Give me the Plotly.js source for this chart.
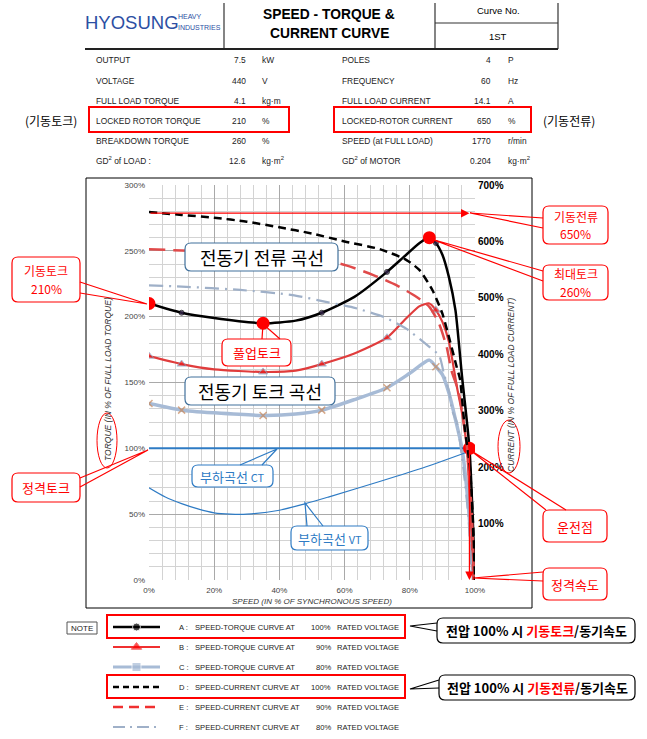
<!DOCTYPE html>
<html><head><meta charset="utf-8">
<script src="https://cdn.plot.ly/plotly-3.0.1.min.js"></script>
<style>html,body{margin:0;padding:0;background:#fff}#chart{width:647px;height:739px}</style>
</head><body><div id="chart"></div>
<script>
// ---------------- DATA ----------------
// A: speed-torque at 100% voltage (x: % sync speed, y: % full-load torque)
const speedA  = [0,10,20,35,45,53,63,73,78,83,86,88,90,92,94,96,98.3,100];
const torqueA = [210,203,199,195,197,203,215,234,245,256,260,256,247,230,205,155,100,0];
const markA   = [0,10,35,53,73,88];
// B: speed-torque at 90% voltage
const speedB  = [0,10,20,35,45,53,63,73,79,83,86,88,90,92,94.5,96,97.5,99.5];
const torqueB = [170,164,160,158,159,164,172,184,199,208,210,205,196,181,146,127,100,0];
const markB   = [0,10,35,53,73,88];
// C: speed-torque at 80% voltage
const speedC  = [0,10,20,35,45,53,63,73,80,86,88,90,92,94,96,98,99.5];
const torqueC = [134,129,127,125,126,129,137,146,157,167,162,156,142,122,100,55,0];
const markC   = [0,10,35,53,73,88];
// D: speed-current at 100% voltage (% full-load current)
const speedD   = [0,10,20,30,40,50,60,71,79,83,87,90,92.3,94.4,95.4,96.9,98.3,99,99.5,100];
const currentD = [652,647,642,635,625,614,600,586,567,549,513,472,424,377,356,267,208,148,89,5];
// E: speed-current at 90% voltage
const speedE   = [0,10,20,40,59,69,76,82,86,89,91.3,92.8,94.9,96,97.5,99,99.7];
const currentE = [586,584,581,574,560,540,522,502,484,454,413,371,335,300,237,119,5];
// F: speed-current at 80% voltage
const speedF   = [0,10,28,44,55,62,72,79,86,89,90.5,92,93,94.4,96.4,98,99];
const currentF = [522,520,514,505,492,484,466,445,413,398,365,335,300,280,200,110,5];
// load curves
const speedCT = [0,98.3];
const loadCT  = [100,100];
const speedVT = [0,5,10,15,20,25,30,40,48,55,71,85,97.5];
const loadVT  = [70,63,58,54,51,50,50,53,58,63,75,86,97];
// highlighted points: locked-rotor, pull-up, breakdown, operating point
const dotSpeed  = [0,35,86,98.3];
const dotTorque = [210,195,260,100];
const lockedCurrent = 650;
const ratedSpeed = 98.3;
const ratedTorque = 100;

// axis ticks
const xTicks = [0,20,40,60,80,100];
const yTicks = [0,50,100,150,200,250,300];
const y2Ticks = [100,200,300,400,500,600,700];

// spec table
const specLeftLabel = ["OUTPUT","VOLTAGE","FULL LOAD TORQUE","LOCKED ROTOR TORQUE","BREAKDOWN TORQUE","GD<sup>2</sup> of LOAD :"];
const specLeftValue = ["7.5","440","4.1","210","260","12.6"];
const specLeftUnit  = ["kW","V","kg·m","%","%","kg·m<sup>2</sup>"];
const specRightLabel = ["POLES","FREQUENCY","FULL LOAD CURRENT","LOCKED-ROTOR CURRENT","SPEED (at FULL LOAD)","GD<sup>2</sup> of MOTOR"];
const specRightValue = ["4","60","14.1","650","1770","0.204"];
const specRightUnit  = ["P","Hz","A","%","r/min","kg·m<sup>2</sup>"];

// legend
const legendLetter = ["A :","B :","C :","D :","E :","F :"];
const legendCurve  = ["SPEED-TORQUE CURVE AT","SPEED-TORQUE CURVE AT","SPEED-TORQUE CURVE AT","SPEED-CURRENT CURVE AT","SPEED-CURRENT CURVE AT","SPEED-CURRENT CURVE AT"];
const legendVolt   = ["100%","90%","80%","100%","90%","80%"];

// ---------------- STYLES ----------------
const W=647,H=739;
const fx=p=>p/W, fy=p=>1-p/H;
const NARROW='"Liberation Sans Narrow","Arial Narrow","Liberation Sans",Arial,sans-serif';
const SANS='"Liberation Sans",Arial,sans-serif';
const KR='"Noto Sans CJK KR","Noto Sans",sans-serif';
const RED='#ff0000';
const BLUE='#2e7bc4';
const pct=v=>v+'%';

const styleA={line:{color:'#000',width:2.5,shape:'spline',smoothing:0.6},marker:{symbol:'circle',color:'#3d2b56'}};
const styleB={line:{color:'#e03c3c',width:2.2,shape:'spline',smoothing:0.6},marker:{symbol:'triangle-up',color:'#e81c1c',line:{color:'#7fa7c9',width:1}}};
const styleC={line:{color:'#a7bbd6',width:3.5,shape:'spline',smoothing:0.6},marker:{symbol:'x-thin-open',color:'#c8885a',line:{color:'#c8885a',width:1.5}}};
const styleD={line:{color:'#000',width:2.5,dash:'8px,5px',shape:'spline',smoothing:0.6}};
const styleE={line:{color:'#e04a4a',width:2.5,dash:'16px,8px',shape:'spline',smoothing:0.6}};
const styleF={line:{color:'#9fb0c8',width:2.2,dash:'14px,6px,2px,6px',shape:'spline',smoothing:0.6}};

function sizes(xs,marks,s){return xs.map(v=>marks.includes(v)?s:0);}

const traces=[
 {x:speedF,y:currentF,yaxis:'y2',mode:'lines',line:styleF.line,hoverinfo:'skip'},
 {x:speedE,y:currentE,yaxis:'y2',mode:'lines',line:styleE.line,hoverinfo:'skip'},
 {x:speedD,y:currentD,yaxis:'y2',mode:'lines',line:styleD.line,hoverinfo:'skip'},
 {x:speedC,y:torqueC,mode:'lines+markers',line:styleC.line,marker:Object.assign({},styleC.marker,{size:sizes(speedC,markC,7)})},
 {x:speedB,y:torqueB,mode:'lines+markers',line:styleB.line,marker:Object.assign({},styleB.marker,{size:sizes(speedB,markB,8)})},
 {x:speedA,y:torqueA,mode:'lines+markers',line:styleA.line,marker:Object.assign({},styleA.marker,{size:sizes(speedA,markA,5)})},
 {x:speedVT,y:loadVT,mode:'lines',line:{color:BLUE,width:1.2,shape:'spline',smoothing:0.8}},
 {x:speedCT,y:loadCT,mode:'lines',line:{color:BLUE,width:2}},
 {x:dotSpeed,y:dotTorque,mode:'markers',marker:{color:RED,size:13}}
];

// legend samples on auxiliary axes
const legendStyles=[
 {line:{color:'#000',width:2.5},marker:{symbol:'circle',color:'#000',size:8}},
 {line:{color:'#f03030',width:2.2},marker:{symbol:'triangle-up',color:'#f00',size:9}},
 {line:{color:'#a7bbd6',width:3},marker:{symbol:'square',color:'#a7bbd6',size:9}},
 {line:{color:'#000',width:2.5,dash:'6px,4px'}},
 {line:{color:'#f03030',width:2.5,dash:'10px,6px'}},
 {line:{color:'#9fb0c8',width:2.2,dash:'12px,5px,2px,5px'}}
];
legendLetter.forEach((l,i)=>{
  const st=legendStyles[i];
  const tr={x:[0,0.5,1],y:[i+0.5,i+0.5,i+0.5],xaxis:'x2',yaxis:'y3',mode:'lines',line:st.line,hoverinfo:'skip'};
  if(st.marker){tr.mode='lines+markers';tr.marker=Object.assign({},st.marker,{size:[0,st.marker.size,0]});}
  traces.push(tr);
});

// ---------------- SHAPES ----------------
const shapes=[];
function line(x0,y0,x1,y1,color,width){shapes.push({type:'line',xref:'paper',yref:'paper',x0:fx(x0),y0:fy(y0),x1:fx(x1),y1:fy(y1),line:{color:color,width:width}});}
function rect(x0,y0,x1,y1,color,width,fill){shapes.push({type:'rect',xref:'paper',yref:'paper',x0:fx(x0),y0:fy(y0),x1:fx(x1),y1:fy(y1),line:{color:color,width:width},fillcolor:fill||'rgba(0,0,0,0)'});}
function rrect(x0,y0,x1,y1,r,color,width){
  const X=fx,Y=fy;
  const p=`M ${X(x0+r)} ${Y(y0)} L ${X(x1-r)} ${Y(y0)} Q ${X(x1)} ${Y(y0)} ${X(x1)} ${Y(y0+r)} L ${X(x1)} ${Y(y1-r)} Q ${X(x1)} ${Y(y1)} ${X(x1-r)} ${Y(y1)} L ${X(x0+r)} ${Y(y1)} Q ${X(x0)} ${Y(y1)} ${X(x0)} ${Y(y1-r)} L ${X(x0)} ${Y(y0+r)} Q ${X(x0)} ${Y(y0)} ${X(x0+r)} ${Y(y0)} Z`;
  shapes.push({type:'path',xref:'paper',yref:'paper',path:p,line:{color:color,width:width},fillcolor:'#fff'});
}
function wedge(a,t,b,color,width){
  const p=`M ${fx(a[0])} ${fy(a[1])} L ${fx(t[0])} ${fy(t[1])} L ${fx(b[0])} ${fy(b[1])}`;
  shapes.push({type:'path',xref:'paper',yref:'paper',path:p,line:{color:color,width:width},fillcolor:'rgba(0,0,0,0)'});
}
function ellipse(x0,y0,x1,y1,color){shapes.push({type:'circle',xref:'paper',yref:'paper',x0:fx(x0),y0:fy(y0),x1:fx(x1),y1:fy(y1),line:{color:color,width:1}});}

// header table
line(224,3,224,49,'#333',1.2);
line(435,3,435,49,'#333',1.2);
line(558,3,558,49,'#333',1.2);
line(435,23,558,23,'#333',1.2);
line(85,49,558,49,'#222',2);
// spec highlight boxes
rect(89,107,289,132,RED,2);
rect(334,107,531,132,RED,2);
// chart frame
rect(86,178,532,608,'#000',1);
// legend
rect(67,622,97,634,'#555',1,'#fff');
rect(107,615,405,638,RED,2);
rect(107,675,405,698,RED,2);
// ellipses around axis titles
ellipse(97,413,117,468,RED);
ellipse(498,420,520,473,RED);

// callouts (text lines drawn separately)
const callouts=[
 {box:[12,257,80,302],w:[[80,282],[147,304],[80,293]],text:['기동토크','210%'],c:RED,tc:RED,fs:13},
 {box:[12,473,80,502],w:[[80,478],[148,450],[80,487]],text:['정격토크'],c:RED,tc:RED,fs:13},
 {box:[222,339,291,366],w:[[262,339],[263,324],[280,339]],text:['풀업토크'],c:RED,tc:RED,fs:13},
 {box:[543,206,608,244],w:[[543,218],[470,213],[543,228]],text:['기동전류','650%'],c:RED,tc:RED,fs:13},
 {box:[543,265,608,300],w:[[543,271],[431,239],[543,281]],text:['최대토크','260%'],c:RED,tc:RED,fs:13},
 {box:[543,510,607,542],w:[[546,510],[470,450],[566,510]],text:['운전점'],c:RED,tc:RED,fs:13},
 {box:[543,568,607,600],w:[[543,572],[473,578],[543,581]],text:['정격속도'],c:RED,tc:RED,fs:13},
 {box:[185,243,338,271],w:null,text:['전동기 전류 곡선'],c:'#41719c',tc:'#000',fs:18},
 {box:[185,377,335,405],w:null,text:['전동기 토크 곡선'],c:'#41719c',tc:'#000',fs:18},
 {box:[192,465,273,487],w:[[240,465],[277,449],[262,465]],text:['부하곡선 <span style="font-size:11px">CT</span>'],c:BLUE,tc:BLUE,fs:13},
 {box:[291,526,368,550],w:[[307,526],[305,503],[323,526]],text:['부하곡선 <span style="font-size:11px">VT</span>'],c:BLUE,tc:BLUE,fs:13},
 {box:[437,618,635,643],w:[[437,623],[410,626],[437,631]],text:['<b>전압 100% 시 <span style="color:#ff0000">기동토크</span>/동기속도</b>'],c:'#000',tc:'#000',fs:13},
 {box:[439,675,635,700],w:[[439,680],[410,689],[439,688]],text:['<b>전압 100% 시 <span style="color:#ff0000">기동전류</span>/동기속도</b>'],c:'#000',tc:'#000',fs:13}
];
callouts.forEach(o=>{
  const b=o.box;
  rrect(b[0],b[1],b[2],b[3],6,o.c,1.2);
  if(o.w) wedge(o.w[0],o.w[1],o.w[2],o.c,1.2);
});

// ---------------- ANNOTATIONS ----------------
const ann=[];
function txt(x,y,text,size,color,family,anchor,extra){
  ann.push(Object.assign({xref:'paper',yref:'paper',x:fx(x),y:fy(y),text:text,showarrow:false,
    xanchor:anchor||'left',yanchor:'middle',borderpad:0,font:{size:size,color:color,family:family}},extra||{}));
}
// header
txt(84,23,'HYOSUNG',18.5,'#2c4fa3',NARROW,'left');
txt(177,17,'HEAVY',7,'#2c4fa3',NARROW,'left');
txt(177,28,'INDUSTRIES',7,'#2c4fa3',NARROW,'left');
txt(329,14,'<b>SPEED - TORQUE &amp;</b>',13.8,'#000',NARROW,'center');
txt(329,34,'<b>CURRENT CURVE</b>',13.8,'#000',NARROW,'center');
txt(498,10,'Curve No.',9.5,'#000',NARROW,'center');
txt(498,36,'1ST',9.5,'#000',NARROW,'center');
// spec rows
const rowY=[60,81,101,121,141,161];
rowY.forEach((y,i)=>{
  txt(95,y,specLeftLabel[i],8.4,'#222',NARROW,'left');
  txt(247,y,specLeftValue[i],8.4,'#222',NARROW,'right');
  txt(261,y,specLeftUnit[i],8.4,'#222',NARROW,'left');
  txt(341,y,specRightLabel[i],8.4,'#222',NARROW,'left');
  txt(492,y,specRightValue[i],8.4,'#222',NARROW,'right');
  txt(507,y,specRightUnit[i],8.4,'#222',NARROW,'left');
});
txt(51,121,'(기동토크)',12,'#000',KR,'center');
txt(569,121,'(기동전류)',12,'#000',KR,'center');
// axis titles
txt(312,601,'SPEED (IN % OF SYNCHRONOUS SPEED)',8,'#333',SANS,'center',{font:{size:8,color:'#333',family:SANS,style:'italic'}});
txt(108,379,'TORQUE (IN % OF FULL LOAD TORQUE)',8.5,'#333',SANS,'center',{textangle:-90,font:{size:8.5,color:'#333',family:SANS,style:'italic'}});
txt(511,385,'CURRENT (IN % OF FULL LOAD CURRENT)',8.5,'#333',SANS,'center',{textangle:-90,font:{size:8.5,color:'#333',family:SANS,style:'italic'}});
// callout texts
callouts.forEach(o=>{
  const b=o.box, cx=(b[0]+b[2])/2, cy=(b[1]+b[3])/2, n=o.text.length, gap=18;
  o.text.forEach((t,k)=>{
    const fs = n>1 ? 12 : o.fs;
    txt(cx, cy+(k-(n-1)/2)*gap, t, fs, o.tc, KR, 'center');
  });
});
// legend texts
txt(82,628,'NOTE',8,'#222',NARROW,'center');
const legY=[627,647,667,687,707,727];
legY.forEach((y,i)=>{
  txt(178,y,legendLetter[i],7.6,'#222',NARROW,'left');
  txt(194,y,legendCurve[i],7.6,'#222',NARROW,'left');
  txt(332,y,legendVolt[i],7.6,'#222',NARROW,'right');
  txt(336,y,'RATED VOLTAGE',7.6,'#222',NARROW,'left');
});
// red arrows tied to data
ann.push({xref:'x',yref:'y2',x:ratedSpeed,y:lockedCurrent,axref:'x',ayref:'y2',ax:0,ay:lockedCurrent,
  text:'',showarrow:true,arrowhead:2,arrowsize:1.3,arrowwidth:1.3,arrowcolor:RED});
ann.push({xref:'x',yref:'y',x:ratedSpeed,y:0,axref:'x',ayref:'y',ax:ratedSpeed,ay:ratedTorque,
  text:'',showarrow:true,arrowhead:2,arrowsize:1.3,arrowwidth:1.3,arrowcolor:RED});

// ---------------- LAYOUT ----------------
const layout={
  width:W,height:H,margin:{l:0,r:0,t:0,b:0},paper_bgcolor:'#fff',plot_bgcolor:'#fff',showlegend:false,
  xaxis:{domain:[fx(149),fx(475)],range:[0,100],tickmode:'array',tickvals:xTicks,ticktext:xTicks.map(pct),ticklabelstandoff:4,
    tickfont:{size:8,color:'#444',family:SANS},
    showgrid:true,gridcolor:'#a9a9a9',gridwidth:1,minor:{dtick:4,tick0:0,showgrid:true,gridcolor:'#d3d3d3',gridwidth:1},
    zeroline:false,showline:false,ticks:'',fixedrange:true,anchor:'y'},
  yaxis:{domain:[fy(580),fy(185)],range:[0,300],tickmode:'array',tickvals:yTicks,ticktext:yTicks.map(pct),ticklabelstandoff:3,
    tickfont:{size:8,color:'#444',family:SANS},
    showgrid:true,gridcolor:'#a9a9a9',gridwidth:1,minor:{dtick:10,tick0:0,showgrid:true,gridcolor:'#d3d3d3',gridwidth:1},
    zeroline:false,showline:false,ticks:'',fixedrange:true,anchor:'x'},
  yaxis2:{overlaying:'y',side:'right',anchor:'x',range:[0,700],tickmode:'array',tickvals:y2Ticks,ticktext:y2Ticks.map(pct),ticklabelstandoff:2,
    tickfont:{size:10,color:'#000',family:SANS,weight:'bold'},showgrid:false,zeroline:false,showline:false,ticks:'',fixedrange:true},
  xaxis2:{domain:[fx(113),fx(160)],range:[0,1],visible:false,anchor:'y3',fixedrange:true},
  yaxis3:{domain:[fy(737),fy(617)],range:[6,0],visible:false,anchor:'x2',fixedrange:true},
  shapes:shapes,annotations:ann
};
Plotly.newPlot('chart',traces,layout,{staticPlot:true,displayModeBar:false});
</script></body></html>
